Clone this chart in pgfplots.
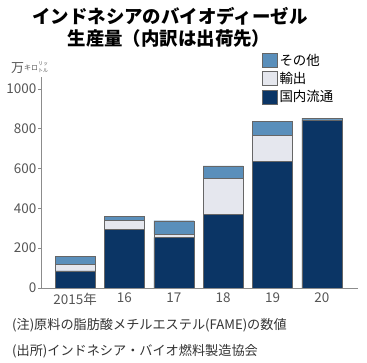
\documentclass[border=0pt]{standalone}
\usepackage{fontspec}
\setmainfont{Noto Sans CJK JP}
\usepackage{pgfplots}
\pgfplotsset{compat=1.18}
\definecolor{dom}{HTML}{0B3565}
\definecolor{exp}{HTML}{E5E7EE}
\definecolor{oth}{HTML}{5A8FBB}
\definecolor{tk}{HTML}{555555}
\begin{document}
\begin{tikzpicture}[x=1bp,y=1bp]
\useasboundingbox (0,0) rectangle (367,363);
\node[font=\fontsize{18.5}{20}\selectfont\bfseries] at (170,347) {インドネシアのバイオディーゼル};
\node[font=\fontsize{18.5}{20}\selectfont\bfseries] at (169,325) {生産量（内訳は出荷先）};
\node[anchor=west,inner sep=0,text=tk,font=\fontsize{13}{14}\selectfont] at (11,295) {万\raisebox{2bp}{\fontsize{7}{7}\selectfont キロ}\raisebox{0bp}{\fontsize{5}{5}\selectfont\shortstack{リッ\\トル}}};
\node[anchor=west,inner sep=0,text=black!80,font=\fontsize{13.2}{15}\selectfont] at (12,38) {(注)原料の脂肪酸メチルエステル(FAME)の数値};
\node[anchor=west,inner sep=0,text=black!80,font=\fontsize{13.2}{15}\selectfont] at (12,12) {(出所)インドネシア・バイオ燃料製造協会};
\begin{axis}[
  at={(41bp,75bp)}, anchor=south west,
  scale only axis, width=317bp, height=211bp,
  xmin=-0.69, xmax=5.73, ymin=0, ymax=1060,
  ybar stacked, bar width=40bp,
  axis x line=bottom, axis y line=left,
  axis line style={-, draw=black!45, line width=0.6pt},
  xtick=data, xticklabels={2015年,16,17,18,19,20},
  x tick style={draw=none},
  ytick={0,200,400,600,800,1000},
  y tick style={draw=black!45, line width=0.6pt},
  major tick length=3bp,
  tick align=outside,
  ticklabel style={text=tk, font=\fontsize{13.5}{15}\selectfont},
  yticklabel style={inner sep=1.5bp},
  xticklabel style={inner sep=2bp},
  /pgf/number format/assume math mode=true,
  /pgf/number format/1000 sep={},
  legend style={at={(axis description cs:0.697,1.12)}, anchor=north west, draw=none, fill=none,
    font=\fontsize{13.5}{15}\selectfont, row sep=1.5bp, inner sep=0pt,
    /tikz/every even column/.append style={column sep=3bp}},
  legend cell align=left,
  legend image code/.code={\draw[#1] (0bp,-7bp) rectangle (15bp,7bp);},
  legend reversed,
  every axis plot/.append style={draw=black!60, line width=0.4pt},
]
\addplot[fill=dom, draw=black!60] coordinates {(0,86) (1,296) (2,254) (3,370) (4,635) (5,843)};
\addplot[fill=exp, draw=black!60] coordinates {(0,33) (1,45) (2,15) (3,180) (4,131) (5,2)};
\addplot[fill=oth, draw=black!60] coordinates {(0,41) (1,20) (2,69) (3,63) (4,71) (5,8)};
\legend{国内流通,輸出,その他}
\end{axis}
\end{tikzpicture}
\end{document}
